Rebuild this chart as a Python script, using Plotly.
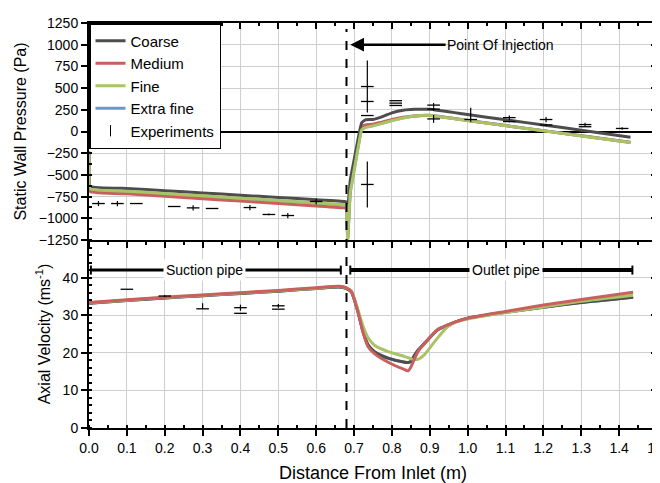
import plotly.graph_objects as go

# ---------------- DATA ----------------
# Static wall pressure (Pa) - simulations
p_x_coarse = [0.0, 0.003, 0.1, 0.2, 0.3, 0.4, 0.5, 0.6, 0.675, 0.68, 0.683, 0.69, 0.70, 0.71, 0.72,
              0.73, 0.75, 0.78, 0.80, 0.83, 0.86, 0.90, 1.0, 1.1, 1.2, 1.3, 1.43]
p_coarse = [-230, -630, -656, -682, -708, -734, -760, -786, -806, -815, -900, -560, -330, -100, 100,
            135, 138, 180, 215, 245, 255, 255, 195, 135, 75, 15, -65]

p_x_medium = [0.0, 0.003, 0.1, 0.2, 0.3, 0.4, 0.5, 0.6, 0.675, 0.68, 0.683, 0.69, 0.70, 0.71, 0.72,
              0.73, 0.75, 0.78, 0.80, 0.83, 0.86, 0.90, 1.0, 1.1, 1.2, 1.3, 1.43]
p_medium = [-250, -690, -718, -746, -774, -802, -830, -858, -880, -885, -1250, -650, -400, -150, 60,
            75, 85, 115, 140, 165, 180, 183, 127, 68, 10, -50, -125]

p_x_fine = [0.0, 0.003, 0.1, 0.2, 0.3, 0.4, 0.5, 0.6, 0.675, 0.68, 0.683, 0.69, 0.70, 0.71, 0.72,
            0.73, 0.75, 0.78, 0.80, 0.83, 0.86, 0.90, 1.0, 1.1, 1.2, 1.3, 1.43]
p_fine = [-240, -660, -687, -714, -741, -768, -795, -822, -845, -850, -1250, -700, -450, -200, 20,
          45, 65, 100, 125, 155, 178, 185, 126, 67, 8, -51, -127]

p_x_xfine = p_x_fine
p_xfine = [-240, -665, -692, -719, -746, -773, -800, -827, -848, -852, -1250, -700, -450, -200, 25,
           48, 68, 102, 128, 157, 179, 186, 127, 68, 9, -50, -126]

# Static wall pressure - experiments (x, value, error up, error down)
pe_x = [0.025, 0.075, 0.125, 0.225, 0.275, 0.325, 0.425, 0.475, 0.525, 0.60,
        0.735, 0.735, 0.735, 0.735, 0.81, 0.81, 0.81,
        0.91, 0.91, 0.91, 1.008, 1.11, 1.11, 1.207, 1.207, 1.31, 1.31, 1.408]
pe_y = [-830, -830, -830, -864, -880, -887, -876, -956, -968, -806,
        518, 346, 184, -610, 300, 327, 355,
        304, 258, 145, 138, 160, 115, 138, 75, 80, 55, 35]
pe_err_up = [30, 30, 0, 0, 30, 0, 30, 10, 30, 35,
             300, 0, 0, 265, 0, 0, 0,
             25, 20, 45, 135, 25, 10, 30, 10, 20, 0, 15]
pe_err_dn = [30, 30, 0, 0, 30, 0, 30, 10, 30, 35,
             300, 0, 0, 265, 0, 0, 0,
             25, 20, 45, 25, 25, 10, 30, 10, 20, 0, 15]

# Axial velocity (m/s) - simulations
v_x = [0.0, 0.1, 0.2, 0.3, 0.4, 0.5, 0.6, 0.66, 0.68, 0.693, 0.71, 0.724, 0.737, 0.754, 0.79,
       0.834, 0.843, 0.85, 0.86, 0.87, 0.886, 0.92, 0.948, 0.97, 1.0, 1.1, 1.2, 1.3, 1.437]
v_coarse = [33.2, 33.9, 34.6, 35.2, 35.8, 36.4, 37.1, 37.5, 37.1, 36.2, 31.0, 25.6, 22.1, 20.3, 18.6,
            17.5, 17.4, 17.7, 19.4, 20.8, 22.5, 26.1, 27.4, 28.3, 29.2, 30.8, 32.1, 33.4, 34.8]
v_medium = [33.4, 34.1, 34.8, 35.4, 36.0, 36.6, 37.3, 37.7, 37.3, 36.2, 31.0, 25.3, 21.6, 19.8, 17.5,
            15.5, 15.2, 16.2, 18.5, 20.5, 22.5, 26.1, 27.4, 28.3, 29.2, 31.0, 32.7, 34.2, 36.1]
v_fine = [33.3, 34.0, 34.7, 35.3, 35.9, 36.5, 37.2, 37.6, 37.2, 36.4, 31.5, 27.0, 24.0, 22.0, 20.3,
          19.0, 18.7, 18.4, 18.2, 18.3, 19.5, 23.9, 27.0, 28.2, 29.0, 30.7, 32.2, 33.7, 35.3]
v_xfine = [33.2, 33.9, 34.6, 35.2, 35.8, 36.4, 37.1, 37.5, 37.1, 36.2, 31.0, 25.5, 22.0, 20.2, 18.5,
           17.5, 17.4, 17.7, 19.3, 20.8, 22.5, 26.0, 27.3, 28.3, 29.2, 30.8, 32.1, 33.4, 34.8]

# Axial velocity - experiments
ve_x = [0.1, 0.2, 0.3, 0.4, 0.4, 0.5, 0.5]
ve_y = [36.9, 35.1, 31.7, 32.0, 30.5, 32.5, 31.6]
ve_err_up = [0, 0.3, 1.5, 0.8, 0, 0.5, 0]
ve_err_dn = [0, 0.3, 0, 0.8, 0, 0.5, 0]

series_names = ["Coarse", "Medium", "Fine", "Extra fine"]
series_colors = {"Coarse": "#4d4d4d", "Medium": "#c9605e", "Fine": "#a9c466", "Extra fine": "#6f97c9"}

x_ticks = [0.0, 0.1, 0.2, 0.3, 0.4, 0.5, 0.6, 0.7, 0.8, 0.9, 1.0, 1.1, 1.2, 1.3, 1.4, 1.5]
x_ticklabels = ["0.0", "0.1", "0.2", "0.3", "0.4", "0.5", "0.6", "0.7", "0.8", "0.9",
                "1.0", "1.1", "1.2", "1.3", "1.4", "1.5"]
p_ticks = [1250, 1000, 750, 500, 250, 0, -250, -500, -750, -1000, -1250]
v_ticks = [0, 10, 20, 30, 40]

injection_x = 0.68

# ---------------- FIGURE ----------------
FONT = "Liberation Sans, Arial, sans-serif"
fig = go.Figure()

pressure = {
    "Coarse": (p_x_coarse, p_coarse),
    "Medium": (p_x_medium, p_medium),
    "Fine": (p_x_fine, p_fine),
    "Extra fine": (p_x_xfine, p_xfine),
}
velocity = {
    "Coarse": v_coarse,
    "Medium": v_medium,
    "Fine": v_fine,
    "Extra fine": v_xfine,
}
rank = {n: i for i, n in enumerate(series_names)}

# top panel, drawing order
for name in ["Extra fine", "Medium", "Coarse", "Fine"]:
    xs, ys = pressure[name]
    fig.add_trace(go.Scatter(x=xs, y=ys, mode="lines", name=name, legendgroup=name,
                             legendrank=rank[name] + 1,
                             line=dict(color=series_colors[name], width=3, shape="spline", smoothing=0.3),
                             xaxis="x2", yaxis="y2", showlegend=True))
# bottom panel, drawing order
for name in ["Extra fine", "Coarse", "Fine", "Medium"]:
    fig.add_trace(go.Scatter(x=v_x, y=velocity[name], mode="lines", name=name, legendgroup=name,
                             line=dict(color=series_colors[name], width=3, shape="spline", smoothing=0.6),
                             xaxis="x", yaxis="y", showlegend=False))

exp_marker = dict(symbol="line-ew", size=9, line=dict(color="black", width=1.3), color="black")
fig.add_trace(go.Scatter(x=pe_x, y=pe_y, mode="markers", marker=exp_marker, showlegend=False,
                         error_y=dict(type="data", symmetric=False, array=pe_err_up, arrayminus=pe_err_dn,
                                      width=0, thickness=1.2, color="black"),
                         xaxis="x2", yaxis="y2", legendgroup="Experiments"))
fig.add_trace(go.Scatter(x=ve_x, y=ve_y, mode="markers", marker=exp_marker, showlegend=False,
                         error_y=dict(type="data", symmetric=False, array=ve_err_up, arrayminus=ve_err_dn,
                                      width=0, thickness=1.2, color="black"),
                         xaxis="x", yaxis="y", legendgroup="Experiments"))
# legend entry for experiments
fig.add_trace(go.Scatter(x=[None], y=[None], mode="markers", name="Experiments", legendgroup="Experiments",
                         legendrank=5,
                         marker=dict(symbol="line-ns", size=8, line=dict(color="black", width=1)),
                         xaxis="x2", yaxis="y2"))
# dummy traces to activate frame overlay axes
fig.add_trace(go.Scatter(x=[None], y=[None], xaxis="x3", yaxis="y2", showlegend=False, hoverinfo="skip"))
fig.add_trace(go.Scatter(x=[None], y=[None], xaxis="x2", yaxis="y3", showlegend=False, hoverinfo="skip"))
fig.add_trace(go.Scatter(x=[None], y=[None], xaxis="x", yaxis="y4", showlegend=False, hoverinfo="skip"))

split = 188 / 405
grid = "#cfcfcf"
tickfont = dict(family=FONT, size=14, color="black")
common_x = dict(range=[0, 1.5], tickvals=x_ticks, showline=True, linecolor="black", linewidth=2,
                gridcolor=grid, gridwidth=1, zeroline=False, ticklen=6, tickwidth=1.5, tickcolor="black",
                automargin=False)
frame = dict(showline=True, linecolor="black", linewidth=2, showgrid=False, zeroline=False,
             showticklabels=False, ticks="inside", ticklen=6, tickwidth=1.5, tickcolor="black",
             automargin=False)

fig.update_layout(
    width=660, height=483,
    margin=dict(l=81, r=11, t=15, b=63, autoexpand=False),
    paper_bgcolor="white", plot_bgcolor="white",
    font=dict(family=FONT, size=14, color="black"),
    showlegend=True,
    legend=dict(x=0, y=1, xanchor="left", yanchor="top", bgcolor="white", bordercolor="black",
                borderwidth=1.5, font=dict(family=FONT, size=15, color="black"),
                tracegroupgap=0, itemwidth=30),
    xaxis=dict(**common_x, domain=[0, 1], anchor="y", ticktext=x_ticklabels, ticks="outside",
               tickfont=tickfont,
               minor=dict(dtick=0.05, ticks="inside", ticklen=3, tickcolor="black", showgrid=False),
               title=dict(text="Distance From Inlet (m)", font=dict(family=FONT, size=18), standoff=12)),
    xaxis2=dict(**common_x, domain=[0, 1], anchor="y2", matches="x", showticklabels=False, ticks="outside",
                minor=dict(dtick=0.05, ticks="outside", ticklen=3, tickcolor="black", showgrid=False)),
    xaxis3=dict(**frame, range=[0, 1.5], tickvals=x_ticks, overlaying="x2", side="top", anchor="y2",
                minor=dict(dtick=0.05, ticks="inside", ticklen=3, tickcolor="black", showgrid=False)),
    yaxis=dict(domain=[0, split], anchor="x", range=[0, 50], tickvals=v_ticks, ticks="outside",
               showline=True, linecolor="black", linewidth=2, gridcolor=grid, zeroline=False,
               ticklen=6, tickwidth=1.5, tickcolor="black", tickfont=tickfont, automargin=False,
               minor=dict(dtick=2, ticks="inside", ticklen=3, tickcolor="black", showgrid=False),
               title=dict(text="Axial Velocity (ms<sup>-1</sup>)", font=dict(family=FONT, size=16), standoff=8)),
    yaxis2=dict(domain=[split, 1], anchor="x2", range=[-1250, 1250], tickvals=p_ticks, ticks="outside",
                showline=True, linecolor="black", linewidth=2, gridcolor=grid,
                zeroline=True, zerolinecolor="black", zerolinewidth=2,
                ticklen=6, tickwidth=1.5, tickcolor="black", tickfont=tickfont, automargin=False,
                minor=dict(dtick=125, ticks="inside", ticklen=3, tickcolor="black", showgrid=False),
                title=dict(text="Static Wall Pressure (Pa)", font=dict(family=FONT, size=16), standoff=8)),
    yaxis3=dict(**frame, range=[-1250, 1250], tickvals=p_ticks, overlaying="y2", side="right", anchor="x2",
                minor=dict(dtick=125, ticks="inside", ticklen=3, tickcolor="black", showgrid=False)),
    yaxis4=dict(**frame, range=[0, 50], tickvals=v_ticks + [50], overlaying="y", side="right", anchor="x",
                minor=dict(dtick=2, ticks="inside", ticklen=3, tickcolor="black", showgrid=False)),
)

# injection dashed line
fig.add_shape(type="line", xref="x", yref="paper", x0=injection_x, x1=injection_x, y0=0, y1=0.985,
              line=dict(color="black", width=2, dash="dash"), layer="above")

# Point of injection: text with arrow pointing to the injection line
fig.add_annotation(xref="x2", yref="y2", axref="x2", ayref="y2", x=0.69, y=1000, ax=1.087, ay=1000,
                   text="Point Of Injection", showarrow=True, arrowhead=2, arrowsize=1.1, arrowwidth=2.5,
                   arrowcolor="black", borderpad=1, font=dict(family=FONT, size=14, color="black"))

# pipe section markers
def pipe(x0, x1, xc, label, width):
    fig.add_shape(type="line", xref="x", yref="y", x0=x0, x1=x1, y0=42, y1=42,
                  line=dict(color="black", width=width))
    for xe in (x0, x1):
        fig.add_shape(type="line", xref="x", yref="y", x0=xe, x1=xe, y0=40.8, y1=43.2,
                      line=dict(color="black", width=2))
    fig.add_annotation(xref="x", yref="y", x=xc, y=42, text=label, showarrow=False, bgcolor="white",
                       borderpad=2, font=dict(family=FONT, size=14, color="black"))

pipe(0.005, 0.665, 0.306, "Suction pipe", 3)
pipe(0.69, 1.435, 1.10, "Outlet pipe", 4)

fig.write_html("out.html")
